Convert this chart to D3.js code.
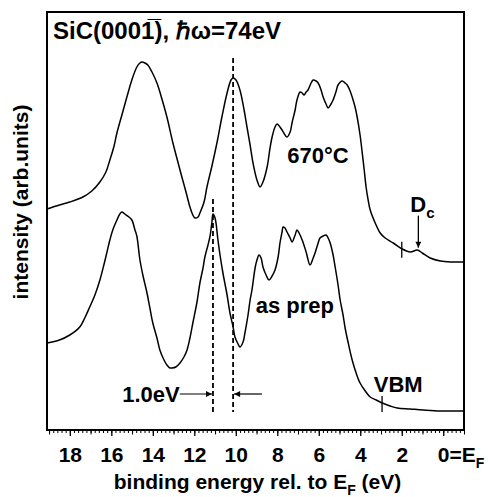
<!DOCTYPE html>
<html>
<head>
<meta charset="utf-8">
<script src="https://cdn.jsdelivr.net/npm/d3@7"></script>
<style>
  body { margin: 0; background: #fff; }
  text { font-family: "Liberation Sans", Arial, sans-serif; font-weight: bold; fill: #000; }
</style>
</head>
<body>
<div id="chart"></div>
<script>

// spectrum after annealing at 670 C (binding energy in eV, intensity in arb. units)
var energyAnneal = [19.1,18.5,18.0,17.37,16.94,16.55,16.26,16.07,15.88,15.73,15.49,15.25,15.01,14.77,14.62,14.53,14.38,14.24,14.04,13.80,13.56,13.32,13.03,12.79,12.60,12.40,12.21,12.07,11.97,11.82,11.73,11.53,11.39,11.15,10.91,10.67,10.42,10.23,10.13,9.99,9.80,9.60,9.46,9.31,9.17,8.98,8.83,8.69,8.49,8.35,8.25,8.11,8.01,7.87,7.77,7.53,7.38,7.29,7.14,7.05,6.90,6.80,6.71,6.61,6.52,6.37,6.27,6.13,6.03,5.89,5.79,5.65,5.55,5.41,5.31,5.16,5.07,4.87,4.73,4.63,4.49,4.39,4.25,4.15,4.01,3.91,3.81,3.72,3.62,3.52,3.28,3.04,2.80,2.41,1.98,1.59,1.25,1.01,0.63,0.14,-0.34,-1.01];
var intensityAnneal = [221,225,228,233,239,248,258,270,283,297,315,333,350,363,367,368,367,365,358,347,331,313,287,268,253,238,223,215,212,213,217,228,243,264,287,313,337,350,352,350,340,320,303,285,267,250,243,248,263,282,293,303,306,303,300,293,298,307,320,330,338,337,335,338,340,347,350,349,347,340,333,326,322,326,330,339,345,349,347,345,339,333,323,313,295,278,260,243,230,220,207,197,192,187,181,178,180,177,172,169,168,168];

// as prepared spectrum
var energyPrep = [19.1,18.5,18.0,17.52,17.28,17.04,16.79,16.55,16.36,16.22,16.07,15.93,15.73,15.59,15.49,15.35,15.15,15.01,14.86,14.77,14.62,14.48,14.28,14.14,14.00,13.80,13.66,13.46,13.32,13.17,13.08,12.89,12.69,12.50,12.35,12.21,12.07,11.87,11.73,11.58,11.49,11.34,11.24,11.15,11.10,11.00,10.86,10.76,10.62,10.42,10.28,10.13,10.04,9.89,9.80,9.65,9.56,9.41,9.31,9.22,9.07,8.98,8.88,8.78,8.69,8.54,8.40,8.25,8.11,7.96,7.87,7.77,7.72,7.63,7.53,7.38,7.29,7.14,7.05,6.95,6.80,6.61,6.42,6.27,6.18,6.03,5.94,5.79,5.65,5.55,5.45,5.31,5.21,5.07,4.97,4.83,4.73,4.58,4.39,4.20,4.01,3.76,3.52,3.23,2.94,2.56,2.22,1.59,0.97,0.14,-1.01];
var intensityPrep = [87,90,95,103,112,123,135,150,165,177,190,200,210,216,218,216,213,210,200,194,170,155,137,122,107,92,80,70,65,62,62,63,67,73,80,92,107,128,147,162,173,185,194,208,216,212,190,175,157,135,117,103,93,86,83,88,97,115,130,140,162,170,175,172,163,155,150,154,160,173,187,198,203,202,198,192,188,195,200,197,190,178,165,172,177,187,192,194,195,192,187,175,163,145,130,115,102,87,70,57,47,39,33,30,27,24,22,21,20,19,19];

var tickEnergies = [18,16,14,12,10,8,6,4,2,0];

// peak positions used for the 1.0 eV shift
var peakPrep = 11.1;
var peakAnneal = 10.13;
var edgeAnneal = 2.0;   // small mark on the 670 C curve
var dcEnergy = 1.2;     // D_c arrow
var vbmEnergy = 2.95;

var margin = {top: 12, right: 24, bottom: 67, left: 47};
var width = 488 - margin.left - margin.right;
var height = 497 - margin.top - margin.bottom;

var svg = d3.select("#chart")
  .append("svg")
  .attr("width", 488)
  .attr("height", 497);

var defs = svg.append("defs");
defs.append("marker")
  .attr("id", "head")
  .attr("viewBox", "0 0 10 10")
  .attr("refX", 10).attr("refY", 5)
  .attr("markerWidth", 7).attr("markerHeight", 6)
  .attr("markerUnits", "userSpaceOnUse")
  .attr("orient", "auto")
  .append("path")
  .attr("d", "M0,0L10,5L0,10z")
  .attr("fill", "#000");

var g = svg.append("g")
  .attr("transform", "translate(" + margin.left + "," + margin.top + ")");

var x = d3.scaleLinear().domain([19.1, -1.0]).range([0, width]);
var y = d3.scaleLinear().domain([0, 418]).range([height, 0]);

// bottom axis: minor, medium and major ticks
var minor = d3.range(-5, 96).map(function(i) { return i / 5; });
g.append("g")
  .attr("transform", "translate(0," + height + ")")
  .call(d3.axisBottom(x).tickValues(minor).tickSize(3).tickFormat(""))
  .call(function(a) { a.select(".domain").remove(); });

g.append("g")
  .attr("transform", "translate(0," + height + ")")
  .call(d3.axisBottom(x).tickValues(d3.range(-1, 20, 2)).tickSize(4.5).tickFormat(""))
  .call(function(a) { a.select(".domain").remove(); });

var xAxis = g.append("g")
  .attr("transform", "translate(0," + height + ")")
  .call(d3.axisBottom(x).tickValues(tickEnergies).tickSize(6).tickPadding(11).tickFormat(d3.format("d")));
xAxis.select(".domain").remove();
xAxis.selectAll(".tick line").attr("stroke-width", 1.3);
xAxis.selectAll("text")
  .style("font-size", "21px")
  .style("font-family", "'Liberation Sans', Arial, sans-serif")
  .style("font-weight", "bold");

// the zero label reads 0=E_F
var zero = xAxis.selectAll(".tick").filter(function(d) { return d === 0; }).select("text");
zero.attr("text-anchor", "start").attr("x", -6).text("0=E");
zero.append("tspan").attr("dy", 6).style("font-size", "14px").text("F");

// frame
g.append("rect")
  .attr("width", width)
  .attr("height", height)
  .attr("fill", "none")
  .attr("stroke", "#000")
  .attr("stroke-width", 2);

var line = d3.line()
  .x(function(d) { return x(d[0]); })
  .y(function(d) { return y(d[1]); })
  .curve(d3.curveCatmullRom);

var anneal = d3.zip(energyAnneal, intensityAnneal);
var prep = d3.zip(energyPrep, intensityPrep);

g.selectAll(".spectrum")
  .data([anneal, prep])
  .enter().append("path")
  .attr("class", "spectrum")
  .attr("d", line)
  .attr("fill", "none")
  .attr("stroke", "#000")
  .attr("stroke-width", 1.5)
  .attr("stroke-linejoin", "round");

// intensity of a curve at a given energy
function at(energies, values, e) {
  for (var i = 0; i < energies.length - 1; i++) {
    if (energies[i] >= e && energies[i + 1] <= e) {
      var t = (energies[i] - e) / (energies[i] - energies[i + 1]);
      return values[i] + t * (values[i + 1] - values[i]);
    }
  }
  return values[values.length - 1];
}

// dashed peak markers
g.append("line")
  .attr("x1", x(peakAnneal)).attr("x2", x(peakAnneal))
  .attr("y1", y(at(energyAnneal, intensityAnneal, peakAnneal)) - 20)
  .attr("y2", y(18))
  .attr("stroke", "#000").attr("stroke-width", 1.8).attr("stroke-dasharray", "5,3");
g.append("line")
  .attr("x1", x(peakPrep)).attr("x2", x(peakPrep))
  .attr("y1", y(at(energyPrep, intensityPrep, peakPrep)) - 15)
  .attr("y2", y(16))
  .attr("stroke", "#000").attr("stroke-width", 1.8).attr("stroke-dasharray", "5,3");

// 1.0 eV arrows
g.append("line")
  .attr("x1", x(12.7)).attr("x2", x(peakPrep) - 1)
  .attr("y1", y(36)).attr("y2", y(36))
  .attr("stroke", "#000").attr("stroke-width", 1.2)
  .attr("marker-end", "url(#head)");
g.append("line")
  .attr("x1", x(8.74)).attr("x2", x(peakAnneal) + 1)
  .attr("y1", y(36)).attr("y2", y(36))
  .attr("stroke", "#000").attr("stroke-width", 1.2)
  .attr("marker-end", "url(#head)");

// short marks on the curves
[[edgeAnneal, at(energyAnneal, intensityAnneal, edgeAnneal)],
 [vbmEnergy, at(energyPrep, intensityPrep, vbmEnergy)]].forEach(function(m) {
  g.append("line")
    .attr("x1", x(m[0])).attr("x2", x(m[0]))
    .attr("y1", y(m[1]) - 7).attr("y2", y(m[1]) + 9)
    .attr("stroke", "#000").attr("stroke-width", 1.3);
});

// D_c arrow
var dcLevel = at(energyAnneal, intensityAnneal, dcEnergy);
g.append("line")
  .attr("x1", x(dcEnergy)).attr("x2", x(dcEnergy))
  .attr("y1", y(dcLevel) - 35).attr("y2", y(dcLevel) - 3)
  .attr("stroke", "#000").attr("stroke-width", 1.3)
  .attr("marker-end", "url(#head)");

// labels
var fs = "21px";
g.append("text").attr("x", x(6.04)).attr("y", y(267)).attr("text-anchor", "middle").style("font-size", "22px").text("670°C");
g.append("text").attr("x", x(7.15)).attr("y", y(117)).attr("text-anchor", "middle").style("font-size", "22px").text("as prep");
g.append("text").attr("x", x(2.17)).attr("y", y(38)).attr("text-anchor", "middle").style("font-size", "22px").text("VBM");
g.append("text").attr("x", x(12.7)).attr("y", y(28)).attr("text-anchor", "end").style("font-size", "22px").text("1.0eV");

var dc = g.append("text").attr("x", x(1.59)).attr("y", y(218)).style("font-size", "22px").text("D");
dc.append("tspan").attr("dy", 6).style("font-size", "15px").text("c");

// title
svg.append("text")
  .attr("x", 53).attr("y", 39)
  .style("font-size", "24px")
  .text("SiC(0001\u0305), \u210F\u03C9=74eV");

// axis titles
var xt = svg.append("text")
  .attr("x", margin.left + width / 2 + 2).attr("y", 489)
  .attr("text-anchor", "middle")
  .style("font-size", fs)
  .text("binding energy rel. to E");
xt.append("tspan").attr("dy", 6).style("font-size", "14px").text("F");
xt.append("tspan").attr("dy", -6).text(" (eV)");

svg.append("text")
  .attr("transform", "translate(28," + (margin.top + height / 2 - 19) + ") rotate(-90)")
  .attr("text-anchor", "middle")
  .style("font-size", fs)
  .text("intensity (arb.units)");

</script>
</body>
</html>
